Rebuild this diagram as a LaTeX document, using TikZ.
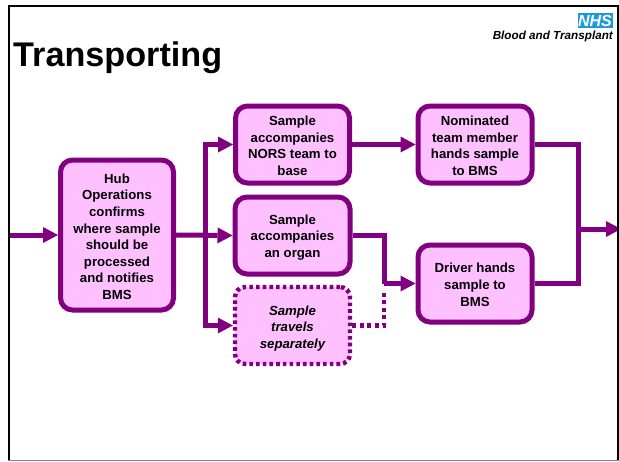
\documentclass[tikz,border=0pt]{standalone}
\usepackage{fontspec}
\setmainfont{Liberation Sans}
\usetikzlibrary{arrows.meta,calc}
\definecolor{pp}{HTML}{800080}
\definecolor{pk}{HTML}{FFC0FF}
\definecolor{nhsblue}{HTML}{1C9ADB}
\newcommand{\dn}[1]{\rule{0pt}{#1pt}}
\tikzset{
 box/.style={draw=pp,fill=pk,line width=5pt,rounded corners=12pt,align=center,inner sep=0pt,
   font=\fontsize{13.2}{16.6}\selectfont\bfseries},
 dotbox/.style={box,line width=4.4pt,dash pattern=on 3.6pt off 3.1pt,rounded corners=10pt,font=\fontsize{13.2}{16.6}\selectfont\bfseries\itshape},
 flow/.style={draw=pp,line width=5pt,line join=miter},
 arrow/.style={flow,-{Triangle[length=15pt,width=16pt,line width=0pt]}},
 dotflow/.style={draw=pp,line width=4.4pt,dash pattern=on 4pt off 3.6pt},
}
\begin{document}
\begin{tikzpicture}[x=1pt,y=-1pt]
\useasboundingbox (0,0) rectangle (619,461);
\fill[white] (0,0) rectangle (619,461);
\node[anchor=base west,inner sep=0pt,font=\fontsize{34.2}{36}\selectfont\bfseries] (title) at (13,66) {Transporting};
\node[fill=nhsblue,text=white,minimum width=35pt,minimum height=15pt,inner sep=0pt,font=\fontsize{16}{15}\selectfont\bfseries\itshape] (nhs) at (595,20.5) {NHS};
\node[anchor=base east,inner sep=0pt,font=\fontsize{11.7}{12}\selectfont\bfseries\itshape] (bt) at (613,39) {Blood and Transplant};
\node[box,minimum width=113pt,minimum height=150pt] (hub) at (117,235) {\dn{13}Hub\\Operations\\confirms\\where sample\\should be\\processed\\and notifies\\BMS};
\node[box,minimum width=114pt,minimum height=77pt] (b1) at (292.5,144.5) {\dn{12}Sample\\accompanies\\NORS team to\\base};
\node[box,minimum width=115pt,minimum height=77pt] (b2) at (292.5,235.5) {\dn{13}Sample\\accompanies\\an organ};
\node[dotbox,minimum width=115pt,minimum height=77pt] (b3) at (292.5,325.5) {\dn{15}Sample\\travels\\separately};
\node[box,minimum width=114pt,minimum height=77pt] (b4) at (475,144.5) {\dn{12}Nominated\\team member\\hands sample\\to BMS};
\node[box,minimum width=114pt,minimum height=77pt] (b5) at (475,283.5) {\dn{12}Driver hands\\sample to\\BMS};
\coordinate (in) at (10,235);
\coordinate (branch) at (205,235);
\coordinate (join) at (384,283.5);
\coordinate (merge) at (578,229);
\coordinate (out) at (621,229);
\draw[arrow] (in) -- (hub.west);
\draw[arrow] (hub.east) -- (b2.west);
\draw[arrow] (branch) |- (b1.west);
\draw[arrow] (branch) |- (b3.west);
\draw[arrow] (b1.east) -- (b4.west);
\draw[flow] (b2.east) -| (join);
\draw[arrow] (join) -- (b5.west);
\draw[dotflow] (b3.east) -| ($(join)+(0,9)$);
\draw[flow] (b4.east) -| (merge);
\draw[flow] (b5.east) -| (merge);
\draw[arrow] (merge) -- (out);
\draw[black,line width=2.2pt] (9.2,460) -- (9.2,6) -- (618,6) -- (618,460);
\draw[gray,line width=1.2pt] (8,460.4) -- (619,460.4);
\end{tikzpicture}
\end{document}
